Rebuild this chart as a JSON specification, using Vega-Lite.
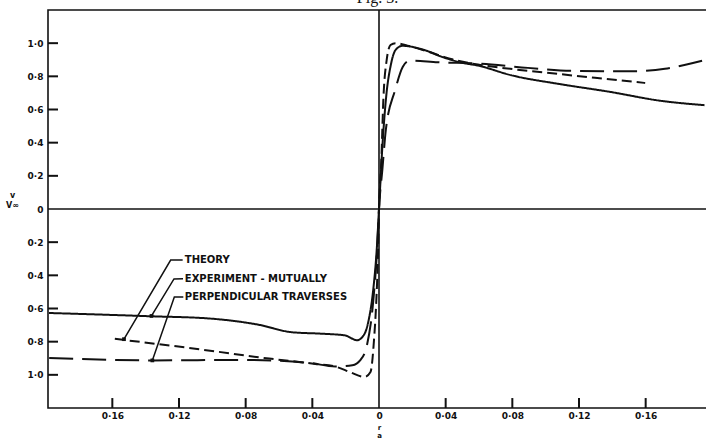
{
  "$schema": "https://vega.github.io/schema/vega-lite/v6.json",
  "width": 659,
  "height": 398,
  "autosize": {"type": "none"},
  "padding": {"left": 48, "top": 10, "right": 0, "bottom": 32},
  "background": "white",
  "title": {"text": "Fig. 3.", "font": "Liberation Serif", "fontSize": 16, "fontWeight": "normal", "offset": 3, "anchor": "middle", "color": "#111"},
  "config": {
    "view": {"stroke": "#111", "strokeWidth": 1.6},
    "axis": {"grid": false, "domain": false, "ticks": false, "labelColor": "#111", "labelFont": "DejaVu Sans", "labelFontWeight": "bold", "labelFontSize": 9, "labelOverlap": false, "titleColor": "#111", "titleFont": "DejaVu Sans", "titleFontWeight": "bold"}
  },
  "resolve": {"axis": {"x": "independent", "y": "independent"}},
  "datasets": {
    "curves": [
      {"s": "exp", "x": -0.198, "y": -0.627},
      {"s": "exp", "x": -0.1364, "y": -0.647},
      {"s": "exp", "x": -0.1022, "y": -0.66},
      {"s": "exp", "x": -0.0722, "y": -0.698},
      {"s": "exp", "x": -0.0523, "y": -0.743},
      {"s": "exp", "x": -0.0343, "y": -0.752},
      {"s": "exp", "x": -0.0205, "y": -0.762},
      {"s": "exp", "x": -0.0132, "y": -0.791},
      {"s": "exp", "x": -0.0091, "y": -0.76},
      {"s": "exp", "x": -0.0062, "y": -0.67},
      {"s": "exp", "x": -0.0035, "y": -0.49},
      {"s": "exp", "x": -0.0014, "y": -0.25},
      {"s": "exp", "x": 0, "y": 0},
      {"s": "exp", "x": 0.0019, "y": 0.356},
      {"s": "exp", "x": 0.0044, "y": 0.687},
      {"s": "exp", "x": 0.0071, "y": 0.869},
      {"s": "exp", "x": 0.01, "y": 0.96},
      {"s": "exp", "x": 0.0141, "y": 0.984},
      {"s": "exp", "x": 0.0262, "y": 0.962},
      {"s": "exp", "x": 0.0382, "y": 0.916},
      {"s": "exp", "x": 0.0503, "y": 0.881},
      {"s": "exp", "x": 0.0593, "y": 0.865},
      {"s": "exp", "x": 0.0792, "y": 0.807},
      {"s": "exp", "x": 0.1093, "y": 0.752},
      {"s": "exp", "x": 0.1376, "y": 0.708},
      {"s": "exp", "x": 0.1694, "y": 0.652},
      {"s": "exp", "x": 0.1953, "y": 0.626},
      {"s": "th", "x": -0.1585, "y": -0.783},
      {"s": "th", "x": -0.1061, "y": -0.848},
      {"s": "th", "x": -0.0659, "y": -0.902},
      {"s": "th", "x": -0.0382, "y": -0.934},
      {"s": "th", "x": -0.0262, "y": -0.95},
      {"s": "th", "x": -0.0171, "y": -0.985},
      {"s": "th", "x": -0.0087, "y": -1.013},
      {"s": "th", "x": -0.0051, "y": -0.983},
      {"s": "th", "x": -0.003, "y": -0.79},
      {"s": "th", "x": -0.0016, "y": -0.55},
      {"s": "th", "x": -0.0007, "y": -0.31},
      {"s": "th", "x": 0, "y": 0},
      {"s": "th", "x": 0.0014, "y": 0.295},
      {"s": "th", "x": 0.0026, "y": 0.657},
      {"s": "th", "x": 0.0046, "y": 0.898},
      {"s": "th", "x": 0.0069, "y": 0.989},
      {"s": "th", "x": 0.0099, "y": 1.0},
      {"s": "th", "x": 0.0171, "y": 0.985},
      {"s": "th", "x": 0.0292, "y": 0.95},
      {"s": "th", "x": 0.0394, "y": 0.916},
      {"s": "th", "x": 0.0593, "y": 0.871},
      {"s": "th", "x": 0.0755, "y": 0.849},
      {"s": "th", "x": 0.0996, "y": 0.823},
      {"s": "th", "x": 0.1296, "y": 0.791},
      {"s": "th", "x": 0.1597, "y": 0.76},
      {"s": "pt", "x": -0.1979, "y": -0.898},
      {"s": "pt", "x": -0.136, "y": -0.913},
      {"s": "pt", "x": -0.082, "y": -0.91},
      {"s": "pt", "x": -0.0418, "y": -0.928},
      {"s": "pt", "x": -0.0262, "y": -0.95},
      {"s": "pt", "x": -0.016, "y": -0.942},
      {"s": "pt", "x": -0.0112, "y": -0.911},
      {"s": "pt", "x": -0.0072, "y": -0.82},
      {"s": "pt", "x": -0.0034, "y": -0.55},
      {"s": "pt", "x": -0.001, "y": -0.217},
      {"s": "pt", "x": 0, "y": 0},
      {"s": "pt", "x": 0.002, "y": 0.235},
      {"s": "pt", "x": 0.0041, "y": 0.477},
      {"s": "pt", "x": 0.0097, "y": 0.718},
      {"s": "pt", "x": 0.0143, "y": 0.858},
      {"s": "pt", "x": 0.0185, "y": 0.895},
      {"s": "pt", "x": 0.0353, "y": 0.885},
      {"s": "pt", "x": 0.0593, "y": 0.877},
      {"s": "pt", "x": 0.0893, "y": 0.851},
      {"s": "pt", "x": 0.1194, "y": 0.832},
      {"s": "pt", "x": 0.1494, "y": 0.83},
      {"s": "pt", "x": 0.1716, "y": 0.846},
      {"s": "pt", "x": 0.1949, "y": 0.897}
    ],
    "leaders": [
      {"l": "th", "o": 0, "x": -0.1178, "y": -0.307},
      {"l": "th", "o": 1, "x": -0.125, "y": -0.308},
      {"l": "th", "o": 2, "x": -0.153, "y": -0.785},
      {"l": "exp", "o": 0, "x": -0.1176, "y": -0.42},
      {"l": "exp", "o": 1, "x": -0.123, "y": -0.422},
      {"l": "exp", "o": 2, "x": -0.1365, "y": -0.645},
      {"l": "pt", "o": 0, "x": -0.1174, "y": -0.53},
      {"l": "pt", "o": 1, "x": -0.1228, "y": -0.531},
      {"l": "pt", "o": 2, "x": -0.136, "y": -0.913}
    ],
    "labels": [
      {"t": "THEORY", "x": -0.1165, "y": -0.307},
      {"t": "EXPERIMENT - MUTUALLY", "x": -0.1165, "y": -0.42},
      {"t": "PERPENDICULAR TRAVERSES", "x": -0.1165, "y": -0.53}
    ],
    "ticklines": [
      {"k": "y-1.0", "x": -0.1986, "y": -1}, {"k": "y-1.0", "x": -0.1926, "y": -1},
      {"k": "y-0.8", "x": -0.1986, "y": -0.8}, {"k": "y-0.8", "x": -0.1926, "y": -0.8},
      {"k": "y-0.6", "x": -0.1986, "y": -0.6}, {"k": "y-0.6", "x": -0.1926, "y": -0.6},
      {"k": "y-0.4", "x": -0.1986, "y": -0.4}, {"k": "y-0.4", "x": -0.1926, "y": -0.4},
      {"k": "y-0.2", "x": -0.1986, "y": -0.2}, {"k": "y-0.2", "x": -0.1926, "y": -0.2},
      {"k": "y0.2", "x": -0.1986, "y": 0.2}, {"k": "y0.2", "x": -0.1926, "y": 0.2},
      {"k": "y0.4", "x": -0.1986, "y": 0.4}, {"k": "y0.4", "x": -0.1926, "y": 0.4},
      {"k": "y0.6", "x": -0.1986, "y": 0.6}, {"k": "y0.6", "x": -0.1926, "y": 0.6},
      {"k": "y0.8", "x": -0.1986, "y": 0.8}, {"k": "y0.8", "x": -0.1926, "y": 0.8},
      {"k": "y1.0", "x": -0.1986, "y": 1}, {"k": "y1.0", "x": -0.1926, "y": 1},
      {"k": "x-0.16", "x": -0.16, "y": -1.2}, {"k": "x-0.16", "x": -0.16, "y": -1.14},
      {"k": "x-0.12", "x": -0.12, "y": -1.2}, {"k": "x-0.12", "x": -0.12, "y": -1.14},
      {"k": "x-0.08", "x": -0.08, "y": -1.2}, {"k": "x-0.08", "x": -0.08, "y": -1.14},
      {"k": "x-0.04", "x": -0.04, "y": -1.2}, {"k": "x-0.04", "x": -0.04, "y": -1.14},
      {"k": "x0.04", "x": 0.04, "y": -1.2}, {"k": "x0.04", "x": 0.04, "y": -1.14},
      {"k": "x0.08", "x": 0.08, "y": -1.2}, {"k": "x0.08", "x": 0.08, "y": -1.14},
      {"k": "x0.12", "x": 0.12, "y": -1.2}, {"k": "x0.12", "x": 0.12, "y": -1.14},
      {"k": "x0.16", "x": 0.16, "y": -1.2}, {"k": "x0.16", "x": 0.16, "y": -1.14}
    ],
    "vrule": [{"x": 0}],
    "hrule": [{"y": 0}]
  },
  "layer": [
    {
      "data": {"name": "curves"},
      "mark": {"type": "line", "color": "#111", "strokeWidth": 2, "interpolate": "monotone", "clip": true},
      "encoding": {
        "x": {
          "field": "x", "type": "quantitative",
          "scale": {"domain": [-0.1986, 0.1968], "nice": false, "zero": false},
          "axis": {
            "values": [-0.16, -0.12, -0.08, -0.04, 0, 0.04, 0.08, 0.12, 0.16],
            "labelExpr": "datum.value == 0 ? '0' : replace(format(abs(datum.value), '.2f'), '.', '·')",
            "ticks": false, "labelPadding": 3, "labelOverlap": false,
            "title": ["r", "a"], "titleFontSize": 7, "titleLineHeight": 8,
            "titleX": 331, "titleY": 15, "titleBaseline": "top", "titleAlign": "center"
          }
        },
        "y": {
          "field": "y", "type": "quantitative",
          "scale": {"domain": [-1.2, 1.2], "nice": false, "zero": false},
          "axis": {
            "values": [-1, -0.8, -0.6, -0.4, -0.2, 0, 0.2, 0.4, 0.6, 0.8, 1],
            "labelExpr": "datum.value == 0 ? '0' : replace(format(abs(datum.value), '.1f'), '.', '·')",
            "ticks": false, "labelPadding": 5, "labelOverlap": false,
            "title": ["v", "V∞"], "titleFontSize": 8, "titleLineHeight": 10, "titleAngle": 0,
            "titleX": -36, "titleY": 181, "titleBaseline": "top", "titleAlign": "center"
          }
        },
        "strokeDash": {
          "field": "s", "type": "nominal",
          "scale": {"domain": ["exp", "th", "pt"], "range": [[1, 0], [10, 5], [24, 9]]},
          "legend": null
        }
      }
    },
    {
      "data": {"name": "ticklines"},
      "mark": {"type": "line", "color": "#111", "strokeWidth": 2, "strokeCap": "butt"},
      "encoding": {
        "x": {"field": "x", "type": "quantitative", "axis": null},
        "y": {"field": "y", "type": "quantitative", "axis": null},
        "detail": {"field": "k"}
      }
    },
    {
      "data": {"name": "vrule"},
      "mark": {"type": "rule", "color": "#111", "strokeWidth": 1.6},
      "encoding": {"x": {"field": "x", "type": "quantitative", "axis": null}}
    },
    {
      "data": {"name": "hrule"},
      "mark": {"type": "rule", "color": "#111", "strokeWidth": 1.6},
      "encoding": {"y": {"field": "y", "type": "quantitative", "axis": null}}
    },
    {
      "data": {"name": "leaders"},
      "mark": {"type": "line", "color": "#111", "strokeWidth": 1.5},
      "encoding": {
        "x": {"field": "x", "type": "quantitative", "axis": null},
        "y": {"field": "y", "type": "quantitative", "axis": null},
        "detail": {"field": "l"},
        "order": {"field": "o"}
      }
    },
    {
      "data": {"name": "leaders"},
      "transform": [{"filter": "datum.o == 2"}],
      "mark": {"type": "point", "shape": "square", "filled": true, "color": "#111", "size": 14, "opacity": 1},
      "encoding": {
        "x": {"field": "x", "type": "quantitative", "axis": null},
        "y": {"field": "y", "type": "quantitative", "axis": null}
      }
    },
    {
      "data": {"name": "labels"},
      "mark": {"type": "text", "align": "left", "baseline": "middle", "font": "DejaVu Sans", "fontWeight": "bold", "fontSize": 10, "color": "#111"},
      "encoding": {
        "x": {"field": "x", "type": "quantitative", "axis": null},
        "y": {"field": "y", "type": "quantitative", "axis": null},
        "text": {"field": "t"}
      }
    }
  ]
}
